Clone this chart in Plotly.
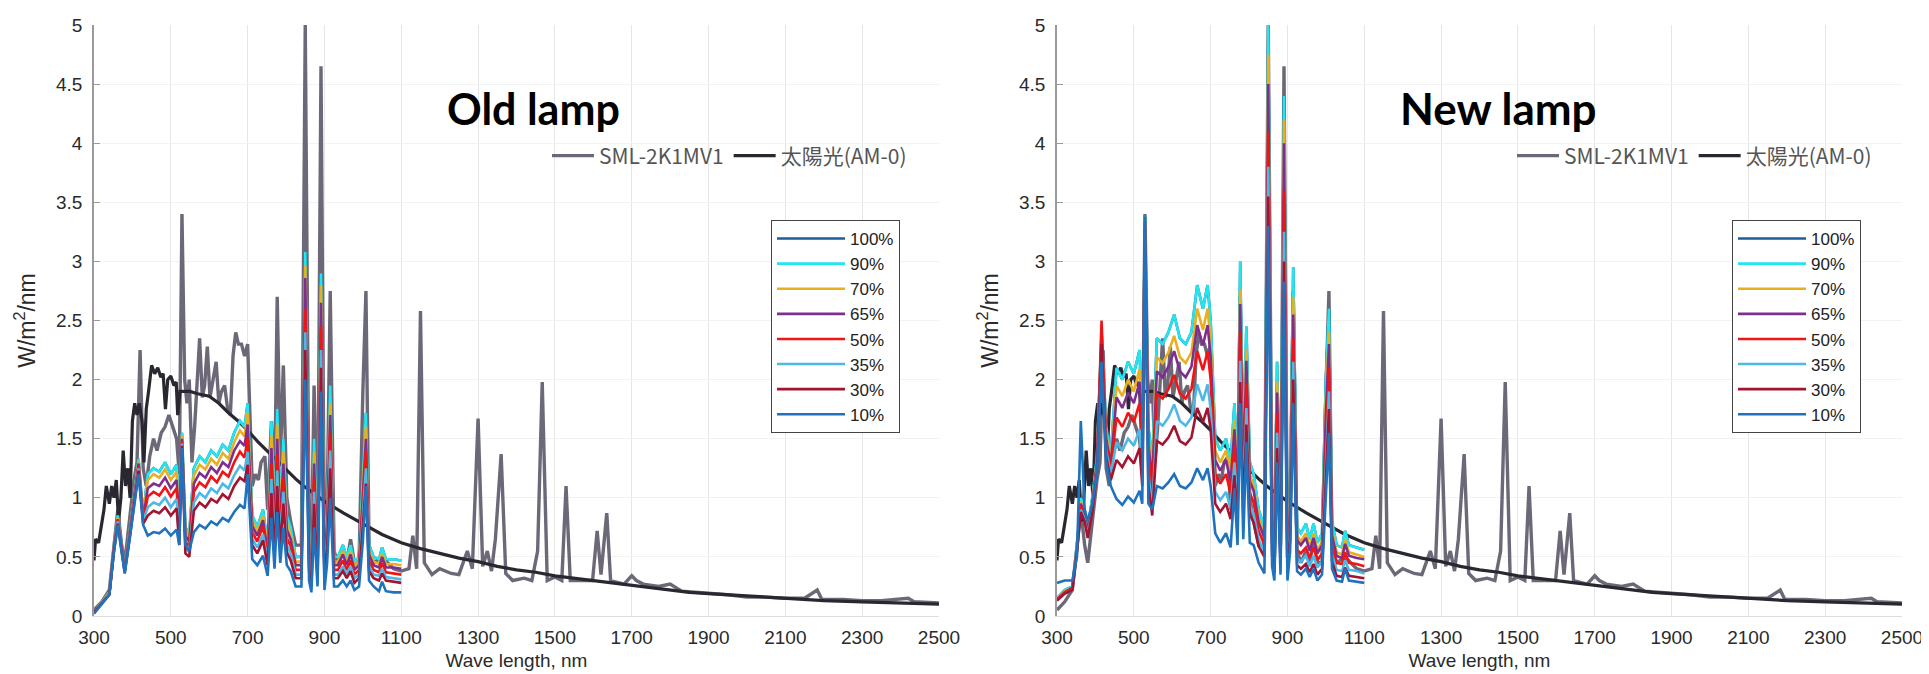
import plotly.graph_objects as go

# ---------------- data ----------------
# wavelength grid (nm) for the dimmed-lamp curves (300-1100 nm)
wl_lamp = [300, 320, 340, 352, 362, 372, 380, 392, 404, 416,
           428, 440, 455, 470, 485, 500, 515, 522, 529, 538,
           548, 560, 575, 590, 605, 620, 635, 650, 665, 680,
           692, 700, 712, 725, 740, 752, 762, 770, 777, 785,
           793, 802, 812, 825, 840, 850, 860, 866, 873, 882,
           891, 900, 907, 915, 925, 935, 948, 958, 968, 978,
           990, 1000, 1008, 1016, 1028, 1042, 1050, 1060, 1080, 1100]

levels = ["100%", "90%", "70%", "65%", "50%", "35%", "30%", "10%"]

# ---- Old lamp (W/m2/nm) ----
old_90 = [0.03, 0.12, 0.20, 0.60, 0.85, 0.60, 0.40, 0.70, 1.00, 1.33,
          0.85, 1.20, 1.25, 1.22, 1.30, 1.20, 1.28, 0.85, 1.55, 0.75,
          0.70, 1.25, 1.35, 1.30, 1.40, 1.35, 1.45, 1.40, 1.55, 1.65,
          1.60, 1.80, 0.85, 0.75, 0.90, 0.60, 1.65, 0.80, 1.75, 0.90,
          1.50, 0.85, 0.75, 0.50, 0.50, 3.08, 0.60, 0.40, 1.50, 0.50,
          2.90, 0.45, 0.90, 1.95, 0.50, 0.50, 0.60, 0.50, 0.60, 0.45,
          0.50, 1.25, 1.72, 0.60, 0.50, 0.48, 0.58, 0.48, 0.48, 0.47]
old_100 = list(old_90)  # the 100% curve lies under the 90% curve in the picture
old_70 = [0.03, 0.12, 0.20, 0.59, 0.83, 0.58, 0.39, 0.69, 0.98, 1.31,
          0.83, 1.15, 1.20, 1.17, 1.24, 1.15, 1.22, 0.82, 1.53, 0.72,
          0.67, 1.19, 1.28, 1.24, 1.33, 1.28, 1.38, 1.33, 1.47, 1.57,
          1.52, 1.72, 0.81, 0.71, 0.85, 0.57, 1.53, 0.74, 1.62, 0.83,
          1.39, 0.79, 0.69, 0.46, 0.46, 2.97, 0.55, 0.37, 1.39, 0.46,
          2.80, 0.42, 0.83, 1.80, 0.46, 0.46, 0.55, 0.46, 0.55, 0.42,
          0.46, 1.15, 1.60, 0.55, 0.46, 0.44, 0.53, 0.44, 0.44, 0.43]
old_65 = [0.03, 0.11, 0.19, 0.58, 0.82, 0.58, 0.39, 0.68, 0.97, 1.29,
          0.82, 1.08, 1.12, 1.10, 1.17, 1.08, 1.15, 0.77, 1.50, 0.68,
          0.63, 1.12, 1.21, 1.17, 1.26, 1.21, 1.30, 1.26, 1.40, 1.48,
          1.44, 1.62, 0.76, 0.68, 0.81, 0.54, 1.42, 0.69, 1.50, 0.77,
          1.29, 0.73, 0.65, 0.43, 0.43, 2.86, 0.52, 0.34, 1.29, 0.43,
          2.65, 0.39, 0.77, 1.70, 0.43, 0.43, 0.52, 0.43, 0.52, 0.39,
          0.43, 1.08, 1.50, 0.52, 0.43, 0.41, 0.50, 0.41, 0.41, 0.40]
old_50 = [0.03, 0.11, 0.19, 0.57, 0.81, 0.57, 0.38, 0.67, 0.95, 1.27,
          0.81, 1.01, 1.05, 1.02, 1.09, 1.01, 1.08, 0.72, 1.48, 0.63,
          0.59, 1.05, 1.13, 1.09, 1.18, 1.13, 1.22, 1.18, 1.30, 1.39,
          1.34, 1.51, 0.71, 0.63, 0.76, 0.50, 1.29, 0.62, 1.37, 0.70,
          1.17, 0.66, 0.59, 0.39, 0.39, 2.60, 0.47, 0.31, 1.17, 0.39,
          2.45, 0.35, 0.70, 1.55, 0.39, 0.39, 0.47, 0.39, 0.47, 0.35,
          0.39, 0.98, 1.40, 0.47, 0.39, 0.37, 0.45, 0.37, 0.36, 0.35]
old_35 = [0.03, 0.11, 0.19, 0.56, 0.80, 0.56, 0.38, 0.66, 0.94, 1.25,
          0.80, 0.92, 0.96, 0.94, 1.00, 0.92, 0.99, 0.66, 1.46, 0.58,
          0.54, 0.96, 1.04, 1.00, 1.08, 1.04, 1.12, 1.08, 1.19, 1.27,
          1.23, 1.39, 0.65, 0.58, 0.69, 0.46, 1.16, 0.56, 1.23, 0.63,
          1.05, 0.60, 0.53, 0.35, 0.35, 2.40, 0.42, 0.28, 1.05, 0.35,
          2.25, 0.32, 0.63, 1.40, 0.35, 0.35, 0.42, 0.35, 0.42, 0.32,
          0.35, 0.88, 1.25, 0.42, 0.35, 0.34, 0.40, 0.33, 0.32, 0.31]
old_30 = [0.03, 0.11, 0.18, 0.55, 0.78, 0.55, 0.37, 0.64, 0.92, 1.23,
          0.78, 0.85, 0.89, 0.87, 0.92, 0.85, 0.91, 0.60, 1.44, 0.53,
          0.50, 0.89, 0.96, 0.92, 0.99, 0.96, 1.03, 0.99, 1.10, 1.17,
          1.14, 1.28, 0.60, 0.53, 0.64, 0.43, 1.04, 0.50, 1.10, 0.57,
          0.95, 0.54, 0.47, 0.32, 0.32, 2.25, 0.38, 0.25, 0.95, 0.32,
          2.10, 0.28, 0.57, 1.25, 0.32, 0.32, 0.38, 0.32, 0.38, 0.28,
          0.32, 0.79, 1.12, 0.38, 0.32, 0.30, 0.36, 0.30, 0.29, 0.28]
old_10 = [0.02, 0.10, 0.18, 0.54, 0.77, 0.54, 0.36, 0.63, 0.90, 1.20,
          0.77, 0.68, 0.71, 0.70, 0.74, 0.68, 0.73, 0.60, 1.42, 0.60,
          0.55, 0.71, 0.77, 0.74, 0.80, 0.77, 0.83, 0.80, 0.88, 0.94,
          0.91, 1.20, 0.48, 0.43, 0.51, 0.34, 0.83, 0.40, 0.88, 0.45,
          0.75, 0.43, 0.38, 0.25, 0.25, 2.00, 0.30, 0.20, 0.75, 0.25,
          1.90, 0.22, 0.45, 1.00, 0.25, 0.25, 0.30, 0.25, 0.30, 0.22,
          0.25, 0.63, 1.10, 0.30, 0.25, 0.21, 0.29, 0.21, 0.20, 0.20]

# ---- New lamp (W/m2/nm) ----
new_90 = [0.15, 0.22, 0.25, 0.60, 1.00, 0.90, 0.75, 1.00, 1.35, 2.40,
          1.60, 1.35, 2.10, 2.00, 2.15, 2.05, 2.25, 1.50, 3.38, 1.60,
          1.30, 2.35, 2.30, 2.40, 2.55, 2.35, 2.30, 2.40, 2.80, 2.60,
          2.80, 2.50, 1.50, 1.40, 1.50, 1.30, 1.80, 1.20, 3.00, 1.30,
          2.45, 1.30, 1.20, 0.90, 0.75, 5.00, 0.80, 0.55, 2.15, 0.70,
          4.40, 0.60, 1.00, 2.95, 0.75, 0.70, 0.78, 0.65, 0.78, 0.62,
          0.70, 2.00, 2.60, 0.80, 0.60, 0.58, 0.72, 0.60, 0.58, 0.56]
new_100 = list(new_90)  # the 100% curve lies under the 90% curve in the picture
new_70 = [0.15, 0.21, 0.24, 0.58, 0.97, 0.88, 0.73, 0.97, 1.32, 2.35,
          1.55, 1.30, 1.95, 1.86, 2.00, 1.90, 2.09, 1.40, 3.36, 1.50,
          1.21, 2.19, 2.14, 2.23, 2.37, 2.19, 2.14, 2.23, 2.60, 2.42,
          2.60, 2.33, 1.40, 1.30, 1.40, 1.21, 1.66, 1.10, 2.76, 1.20,
          2.25, 1.20, 1.10, 0.83, 0.69, 4.75, 0.74, 0.50, 1.98, 0.64,
          4.20, 0.55, 0.92, 2.70, 0.68, 0.63, 0.70, 0.59, 0.70, 0.56,
          0.63, 1.84, 2.40, 0.72, 0.54, 0.52, 0.65, 0.54, 0.52, 0.50]
new_65 = [0.14, 0.20, 0.24, 0.57, 0.95, 0.86, 0.72, 0.95, 1.30, 2.30,
          1.50, 1.28, 1.85, 1.76, 1.89, 1.80, 1.98, 1.35, 3.34, 1.45,
          1.15, 2.07, 2.02, 2.11, 2.24, 2.07, 2.02, 2.11, 2.46, 2.29,
          2.46, 2.20, 1.32, 1.23, 1.32, 1.14, 1.58, 1.06, 2.64, 1.14,
          2.16, 1.14, 1.06, 0.79, 0.66, 4.50, 0.70, 0.48, 1.89, 0.60,
          4.00, 0.51, 0.85, 2.55, 0.64, 0.60, 0.66, 0.55, 0.66, 0.53,
          0.60, 1.70, 2.30, 0.68, 0.51, 0.49, 0.61, 0.51, 0.49, 0.48]
new_50 = [0.14, 0.20, 0.23, 0.56, 0.93, 0.84, 0.70, 0.93, 1.28, 2.50,
          1.45, 1.25, 1.68, 1.60, 1.72, 1.64, 1.80, 1.30, 3.32, 1.35,
          1.05, 1.88, 1.84, 1.92, 2.04, 1.88, 1.84, 1.92, 2.24, 2.08,
          2.24, 2.00, 1.20, 1.12, 1.20, 1.04, 1.44, 0.96, 2.40, 1.04,
          1.96, 1.04, 0.96, 0.72, 0.60, 4.10, 0.62, 0.43, 1.72, 0.54,
          3.60, 0.46, 0.78, 2.35, 0.56, 0.53, 0.58, 0.49, 0.58, 0.47,
          0.53, 1.50, 2.10, 0.60, 0.45, 0.44, 0.54, 0.45, 0.44, 0.42]
new_35 = [0.13, 0.19, 0.22, 0.55, 0.90, 0.82, 0.68, 0.90, 1.25, 2.25,
          1.40, 1.20, 1.47, 1.40, 1.50, 1.44, 1.58, 1.20, 3.30, 1.20,
          0.92, 1.65, 1.61, 1.68, 1.79, 1.65, 1.61, 1.68, 1.96, 1.82,
          1.96, 1.75, 1.05, 0.98, 1.05, 0.91, 1.30, 0.86, 2.16, 0.94,
          1.76, 0.94, 0.86, 0.65, 0.54, 3.80, 0.56, 0.39, 1.55, 0.48,
          3.25, 0.41, 0.70, 2.15, 0.49, 0.46, 0.51, 0.42, 0.51, 0.41,
          0.46, 1.30, 1.90, 0.52, 0.39, 0.38, 0.47, 0.39, 0.38, 0.36]
new_30 = [0.13, 0.19, 0.22, 0.54, 0.88, 0.80, 0.66, 0.88, 1.22, 2.30,
          1.35, 1.15, 1.32, 1.26, 1.35, 1.29, 1.42, 1.10, 3.28, 1.10,
          0.85, 1.48, 1.45, 1.51, 1.61, 1.48, 1.45, 1.51, 1.76, 1.64,
          1.76, 1.58, 0.95, 0.88, 0.95, 0.82, 1.19, 0.79, 1.98, 0.86,
          1.62, 0.86, 0.79, 0.59, 0.50, 3.55, 0.51, 0.36, 1.42, 0.44,
          3.00, 0.37, 0.64, 2.00, 0.43, 0.40, 0.44, 0.37, 0.44, 0.35,
          0.40, 1.15, 1.75, 0.46, 0.34, 0.33, 0.41, 0.34, 0.33, 0.32]
new_10 = [0.28, 0.30, 0.30, 0.50, 1.65, 0.90, 0.80, 0.95, 1.20, 2.15,
          1.30, 1.10, 0.99, 0.94, 1.01, 0.96, 1.06, 0.95, 3.38, 0.95,
          0.90, 1.10, 1.08, 1.13, 1.20, 1.10, 1.08, 1.13, 1.25, 1.15,
          1.25, 1.10, 0.70, 0.62, 0.70, 0.58, 1.08, 0.60, 1.80, 0.65,
          1.47, 0.62, 0.60, 0.45, 0.36, 3.30, 0.42, 0.30, 1.30, 0.35,
          2.83, 0.30, 0.55, 1.80, 0.38, 0.35, 0.40, 0.33, 0.40, 0.30,
          0.35, 1.00, 1.55, 0.40, 0.30, 0.29, 0.40, 0.30, 0.29, 0.28]

# ---- reference lamp SML-2K1MV1 (gray) ----
sml_wl = [300, 320, 340, 352, 362, 372, 380, 392, 404, 412, 420, 428, 436, 445, 455,
          464, 475, 485, 495, 505, 515, 522, 529, 536, 542, 548, 555, 562, 568, 575,
          582, 588, 595, 602, 610, 618, 625, 632, 640, 648, 655, 662, 669, 676, 684,
          692, 700, 706, 712, 720, 728, 735, 745, 752, 762, 770, 777, 785, 793, 802,
          812, 825, 840, 850, 860, 866, 873, 882, 891, 900, 907, 915, 925, 935, 948,
          958, 968, 978, 990, 1000, 1008, 1016, 1028, 1050, 1080, 1100, 1120, 1130, 1140, 1150,
          1160, 1180, 1200, 1230, 1250, 1272, 1285, 1300, 1312, 1324, 1335, 1345, 1360, 1372, 1390,
          1420, 1440, 1455, 1467, 1480, 1500, 1518, 1529, 1540, 1570, 1598, 1610, 1620, 1635, 1645,
          1680, 1700, 1712, 1730, 1770, 1800, 1830, 1870, 1900, 1950, 2000, 2050, 2100, 2150, 2183,
          2195, 2250, 2300, 2350, 2420, 2435, 2500]
sml_val = [0.05, 0.12, 0.22, 0.60, 0.90, 0.60, 0.45, 0.80, 1.15, 1.30, 2.25, 1.25, 1.10, 1.35, 1.50,
           1.40, 1.55, 1.60, 1.70, 1.60, 1.50, 1.20, 3.40, 2.00, 1.80, 2.00, 1.30, 1.60, 1.90, 2.35,
           1.85, 1.95, 2.28, 1.85, 2.00, 2.15, 1.80, 1.90, 1.95, 1.75, 1.70, 2.20, 2.40, 2.30, 2.30,
           2.20, 2.30, 1.70, 1.10, 1.20, 1.15, 1.30, 1.35, 0.90, 1.65, 1.00, 2.70, 1.30, 2.12, 1.00,
           0.80, 0.60, 0.60, 5.00, 0.70, 0.50, 1.95, 0.60, 4.65, 0.50, 0.90, 2.75, 0.55, 0.45, 0.55,
           0.45, 0.65, 0.45, 0.45, 1.90, 2.75, 0.60, 0.45, 0.50, 0.40, 0.38, 0.40, 0.68, 0.40, 2.58,
           0.45, 0.35, 0.40, 0.36, 0.35, 0.55, 0.40, 1.67, 0.42, 0.55, 0.38, 0.65, 1.37, 0.36, 0.30,
           0.32, 0.30, 0.55, 1.98, 0.30, 0.33, 0.30, 1.10, 0.30, 0.30, 0.30, 0.72, 0.35, 0.87, 0.30,
           0.27, 0.34, 0.30, 0.27, 0.25, 0.27, 0.21, 0.20, 0.19, 0.18, 0.16, 0.16, 0.15, 0.15, 0.22,
           0.14, 0.14, 0.13, 0.13, 0.15, 0.12, 0.11]

# ---- sunlight AM-0 (black) ----
sun_wl = [300, 304, 312, 318, 326, 332, 340, 346, 352, 358, 364, 370, 376, 382, 388,
          394, 400, 406, 412, 418, 425, 430, 436, 442, 450, 458, 466, 474, 480, 486,
          492, 500, 508, 514, 518, 524, 535, 550, 570, 600, 625, 650, 675, 700, 725,
          750, 775, 800, 825, 850, 875, 900, 950, 1000, 1050, 1100, 1150, 1200, 1250, 1300,
          1350, 1400, 1450, 1500, 1550, 1600, 1650, 1700, 1750, 1800, 1850, 1900, 1950, 2000, 2100,
          2200, 2300, 2400, 2500]
sun_val = [0.47, 0.65, 0.62, 0.75, 0.90, 1.10, 0.95, 1.10, 1.00, 1.15, 0.80, 1.00, 1.40, 1.10, 1.25,
           1.00, 1.65, 1.80, 1.70, 1.80, 1.65, 1.30, 1.75, 1.90, 2.12, 2.05, 2.10, 2.02, 2.05, 1.75,
           2.00, 2.03, 1.95, 1.98, 1.70, 1.90, 1.90, 1.90, 1.88, 1.86, 1.80, 1.72, 1.65, 1.57, 1.48,
           1.40, 1.32, 1.24, 1.16, 1.09, 1.03, 0.97, 0.87, 0.78, 0.69, 0.62, 0.57, 0.53, 0.49, 0.46,
           0.42, 0.39, 0.37, 0.34, 0.32, 0.30, 0.28, 0.26, 0.24, 0.22, 0.20, 0.19, 0.18, 0.17, 0.15,
           0.13, 0.12, 0.11, 0.10]

x_ticks = [300, 500, 700, 900, 1100, 1300, 1500, 1700, 1900, 2100, 2300, 2500]
y_ticks = [0, 0.5, 1, 1.5, 2, 2.5, 3, 3.5, 4, 4.5, 5]
y_ticktext = ["0", "0.5", "1", "1.5", "2", "2.5", "3", "3.5", "4", "4.5", "5"]

# ---------------- styling ----------------
level_colors = ["#1f5c99", "#22e5ee", "#e8b020", "#7e2f8e", "#f01414", "#4db8e8", "#a2142f", "#1f72bd"]
GRAY = "#6d6877"
BLACK = "#2a2730"
W, H = 1929, 674

fig = go.Figure()

panels = [
    dict(xa="x", ya="y", series=[old_100, old_90, old_70, old_65, old_50, old_35, old_30, old_10],
         leg="legend", top="legend3", tag="old"),
    dict(xa="x2", ya="y2", series=[new_100, new_90, new_70, new_65, new_50, new_35, new_30, new_10],
         leg="legend2", top="legend4", tag="new"),
]

for p in panels:
    fig.add_trace(go.Scatter(x=sml_wl, y=sml_val, mode="lines", name="SML-2K1MV1",
                             line=dict(color=GRAY, width=3.4), xaxis=p["xa"], yaxis=p["ya"],
                             legend=p["top"], legendgroup=p["tag"] + "sml", hoverinfo="skip"))
    fig.add_trace(go.Scatter(x=sun_wl, y=sun_val, mode="lines", name="太陽光(AM-0)",
                             line=dict(color=BLACK, width=3.2), xaxis=p["xa"], yaxis=p["ya"],
                             legend=p["top"], legendgroup=p["tag"] + "sun", hoverinfo="skip"))
    for lvl, col, vals in zip(levels, level_colors, p["series"]):
        fig.add_trace(go.Scatter(x=wl_lamp, y=vals, mode="lines", name=lvl,
                                 line=dict(color=col, width=2.6), xaxis=p["xa"], yaxis=p["ya"],
                                 legend=p["leg"], legendgroup=p["tag"] + lvl, hoverinfo="skip"))

tick_font = dict(family="Liberation Sans", size=19, color="#2a2a2a")
ytitle_font = dict(family="Liberation Sans", size=23, color="#2a2a2a")
ydom = [(H - 608) / H, (H - 17) / H]


def xaxis_cfg(x0, x1, anchor):
    return dict(domain=[x0 / W, x1 / W], range=[300, 2500], tickvals=x_ticks,
                showgrid=True, gridcolor="#e6e6e6", gridwidth=1, zeroline=False,
                showline=True, linecolor="#dddddd", ticks="", anchor=anchor,
                tickfont=tick_font, ticklabelstandoff=4, automargin=False,
                title=dict(text="Wave length, nm", font=tick_font, standoff=6))


def yaxis_cfg(anchor):
    return dict(domain=ydom, range=[0, 5], tickvals=y_ticks, ticktext=y_ticktext,
                showgrid=True, gridcolor="#f2f2f2", gridwidth=1, zeroline=False,
                showline=True, linecolor="#9a9a9a", linewidth=1.5, mirror=False,
                ticks="inside", ticklen=6, tickcolor="#9a9a9a", anchor=anchor,
                tickfont=tick_font, ticklabelstandoff=6, automargin=False,
                title=dict(text="W/m<sup>2</sup>/nm", font=ytitle_font, standoff=14))


pct_legend = dict(xanchor="left", yanchor="top", bgcolor="white", bordercolor="#444",
                  borderwidth=1, font=dict(family="Liberation Sans", size=17, color="#222"),
                  tracegroupgap=3, itemwidth=68, traceorder="normal")
top_legend = dict(orientation="h", xanchor="left", yanchor="middle", bgcolor="rgba(0,0,0,0)",
                  font=dict(family="Noto Sans CJK JP", size=21, color="#555"),
                  traceorder="normal", itemwidth=42)

fig.update_layout(
    width=W, height=H, autosize=False,
    margin=dict(l=0, r=0, t=0, b=0),
    paper_bgcolor="white", plot_bgcolor="white",
    xaxis=xaxis_cfg(86, 931, "y"),
    yaxis=yaxis_cfg("x"),
    xaxis2=xaxis_cfg(1049, 1894, "y2"),
    yaxis2=yaxis_cfg("x2"),
    legend=dict(pct_legend, x=763 / W, y=1 - 212 / H),
    legend2=dict(pct_legend, x=1724 / W, y=1 - 212 / H),
    legend3=dict(top_legend, x=539 / W, y=1 - 148 / H),
    legend4=dict(top_legend, x=1504 / W, y=1 - 148 / H),
    annotations=[
        dict(text="<b>Old lamp</b>", x=525 / W, y=1 - 100 / H, xref="paper", yref="paper",
             showarrow=False, xanchor="center", yanchor="middle",
             font=dict(family="Lato", size=43, color="black")),
        dict(text="<b>New lamp</b>", x=1490 / W, y=1 - 100 / H, xref="paper", yref="paper",
             showarrow=False, xanchor="center", yanchor="middle",
             font=dict(family="Lato", size=44, color="black")),
    ],
)

fig.write_html("out.html")
